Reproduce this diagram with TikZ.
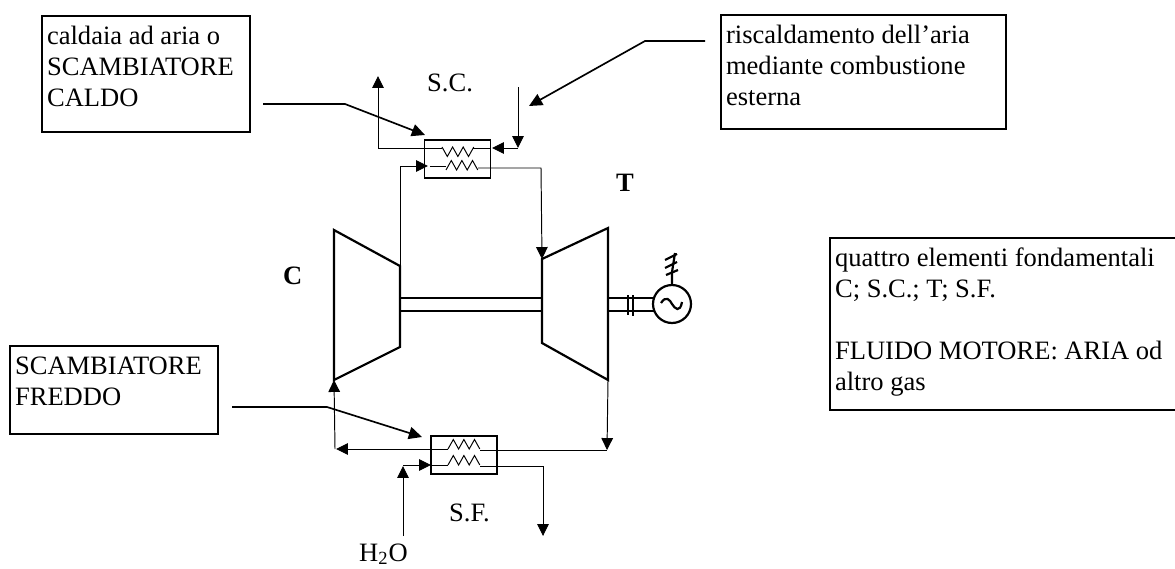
\documentclass[tikz,border=0pt]{standalone}
\usepackage{fontspec}
\setmainfont{Liberation Serif}
\usetikzlibrary{arrows.meta, positioning, calc}
\newcommand{\notetext}[3]{\parbox[c][#2][t]{#1}{\leftskip=3pt\rule{0pt}{16.6pt}#3}}
\newcommand{\coil}[2]{#1 -- ++(5.3,#2) -- ++(5.3,-#2) -- ++(5.3,#2) -- ++(5.3,-#2) -- ++(5.3,#2) -- ++(5.3,-#2)}
\tikzset{>={Triangle[length=6.8pt,width=6.6pt]}}
\tikzset{
  note/.style={draw, line width=0.9pt, anchor=north west, inner sep=0pt, font=\fontsize{15.1}{17.6}\selectfont},
  label/.style={anchor=base west, font=\fontsize{15.1}{17.6}\selectfont},
  boldlabel/.style={anchor=base west, font=\fontsize{15.1}{17.6}\selectfont\bfseries},
  flow/.style={line width=0.55pt},
  leader/.style={line width=0.95pt, >={Triangle[length=7.5pt,width=7pt]}},
  heavy/.style={line width=1.25pt},
  exchanger/.style={draw, line width=1.1pt, minimum width=1.32cm, minimum height=0.76cm, inner sep=0pt},
  alternator/.style={draw, circle, line width=1.25pt, minimum size=0.76cm, inner sep=0pt}
}
\begin{document}
\begin{tikzpicture}[x=0.02cm, y=-0.02cm]
    \useasboundingbox (0,0) rectangle (1175,568);
    % boxes with the notes
    \node[note] (caldaia) at (41,15) {\notetext{4.16cm}{2.32cm}{caldaia ad aria o\\SCAMBIATORE\\CALDO}};
    \node[note] (riscaldamento) at (720,14) {\notetext{5.7cm}{2.28cm}{riscaldamento dell'aria\\mediante combustione\\esterna}};
    \node[note] (quattro) at (829,237) {\notetext{7cm}{3.44cm}{quattro elementi fondamentali\\C; S.C.; T; S.F.\\[17.6pt]FLUIDO MOTORE: ARIA od\\altro gas}};
    \node[note] (freddo) at (9,345) {\notetext{4.16cm}{1.76cm}{SCAMBIATORE\\FREDDO}};
    % labels
    \node[label] (sc) at (421,91) {S.C.};
    \node[label] (sf) at (443,521) {S.F.};
    \node[label] (h2o) at (353,561) {H\textsubscript{2}O};
    \node[boldlabel] (tlabel) at (610,191) {T};
    \node[boldlabel] (clabel) at (277,284) {C};
    % exchangers
    \node[exchanger] (hot) at (457.5,159) {};
    \node[exchanger] (cold) at (464,455) {};
    % compressor and turbine
    \draw[heavy] (334,230) coordinate (c1) -- (400,266) coordinate (c2) -- (400,347) coordinate (c3) -- (334,380) coordinate (c4) -- cycle;
    \draw[heavy] (542,259) coordinate (t1) -- (608,228) coordinate (t2) -- (608,380) coordinate (t3) -- (542,343) coordinate (t4) -- cycle;
    % shaft
    \draw[heavy] (400,298) -- (542,298);
    \draw[heavy] (400,311) -- (542,311);
    % alternator
    \node[alternator] (gen) at (672,304) {};
    \draw[heavy] (608,298) -- (654,298);
    \draw[heavy] (608,311) -- (654,311);
    \draw[heavy] (628,295) -- (628,315);
    \draw[heavy] (633,295) -- (633,316);
    \draw[heavy] (661,303) .. controls (666,295) and (670,300) .. (672,304) .. controls (675,309) and (680,313) .. (682,302);
    \draw[heavy] (gen.north) -- (672,272) -- (675,253);
    \draw[heavy] (665,260) -- (677,254);
    \draw[heavy] (665,268) -- (677,262);
    \draw[heavy] (666,275) -- (678,270);
    % leaders of the notes
    \coordinate (caldaiaend) at (263,104);
    \coordinate (riscaldend) at (705,41);
    \coordinate (freddoend) at (232,407);
    \draw[leader, ->] (caldaiaend) -- (345,104) -- (425,135);
    \draw[leader, ->] (riscaldend) -- (645,41) -- (529,106);
    \draw[leader, ->] (freddoend) -- (327,407) -- (422,437);
    % hot side
    \coordinate (hotout) at (378,148);
    \coordinate (hotin) at (518,148);
    \draw[flow, ->] (442,148) -- (hotout) -- (378,76);
    \draw[flow] \coil{(442,147)}{9.5};
    \draw[flow] (473,148) -- (hot.east |- hotin);
    \draw[flow, ->] (hotin) -- (492,148);
    \draw[flow, ->] (518,87) -- (hotin);
    \draw[flow] (430,166) -- (446,166);
    \draw[flow] \coil{(446,170)}{-9.5};
    \draw[flow, ->] (c2) -- (400,166) -- (428,166);
    \draw[flow, ->] (478,168) -- (541,168) -- (t1);
    % cold side
    \coordinate (coldout) at (607,450);
    \draw[flow, ->] (t3) -- (coldout);
    \draw[flow] \coil{(448,449)}{-9.5};
    \draw[flow] (480,450) -- (coldout);
    \draw[flow, ->] (448,449) -- (336,449);
    \draw[flow, ->] (335,449) -- (c4);
    \draw[flow] \coil{(448,465)}{-9.5};
    \draw[flow] (431,465) -- (448,465);
    \draw[flow, ->] (403,465) -- (431,465);
    \draw[flow, ->] (403,536) -- (403,466);
    \draw[flow, ->] (480,466) -- (543,466) -- (543,536);
\end{tikzpicture}
\end{document}
